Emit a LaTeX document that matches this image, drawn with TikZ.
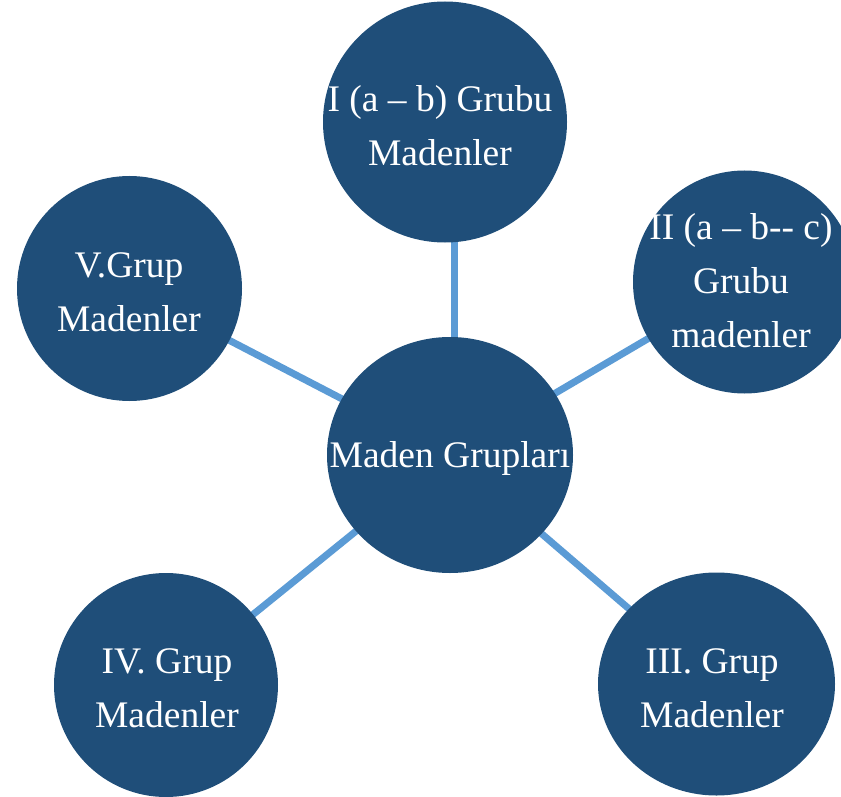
\documentclass[tikz,border=0pt]{standalone}
\usepackage{fontspec}
\setmainfont{Liberation Serif}
\usetikzlibrary{shapes.geometric,backgrounds}
\definecolor{discblue}{RGB}{31,78,121}
\definecolor{linkblue}{RGB}{91,155,213}
\begin{document}
\begin{tikzpicture}[x=1pt,y=-1pt,
  disc/.style={ellipse,fill=discblue,draw=none,inner sep=0pt},
  txt/.style={text=white,align=center,inner sep=0pt,font=\fontsize{37.5}{54}\selectfont},
  link/.style={draw=linkblue,line width=7pt}]
\useasboundingbox (0,0) rectangle (841,797);
\clip (0,0) rectangle (841,797);
\node[disc,minimum width=246pt,minimum height=236pt] (c) at (450,455) {};
\node[disc,minimum width=244pt,minimum height=241pt] (g1) at (445,122) {};
\node[disc,minimum width=223pt,minimum height=223pt] (g2) at (744.5,282) {};
\node[disc,minimum width=237pt,minimum height=223pt] (g3) at (716.5,684) {};
\node[disc,minimum width=224pt,minimum height=224pt] (g4) at (166,685) {};
\node[disc,minimum width=225pt,minimum height=225pt] (g5) at (129.5,288.5) {};
\node[txt] (tc) at (450,458) {Maden Grupları};
\node[txt] (t1) at (440,126) {I (a – b) Grubu\\Madenler};
\node[txt] (t2) at (741,281) {II (a – b-{}- c)\\Grubu\\madenler};
\node[txt] (t3) at (712,688) {III. Grup\\Madenler};
\node[txt] (t4) at (167,688) {IV. Grup\\Madenler};
\node[txt] (t5) at (129,292) {V.Grup\\Madenler};
\begin{scope}[on background layer]
\draw[link] ([xshift=4pt]c.center) -- ([xshift=9pt]g1.center);
\draw[link] (c.center) -- (g2.center);
\draw[link] (c.center) -- (g3.center);
\draw[link] (c.center) -- (g4.center);
\draw[link] (c.center) -- (g5.center);
\end{scope}
\end{tikzpicture}
\end{document}
